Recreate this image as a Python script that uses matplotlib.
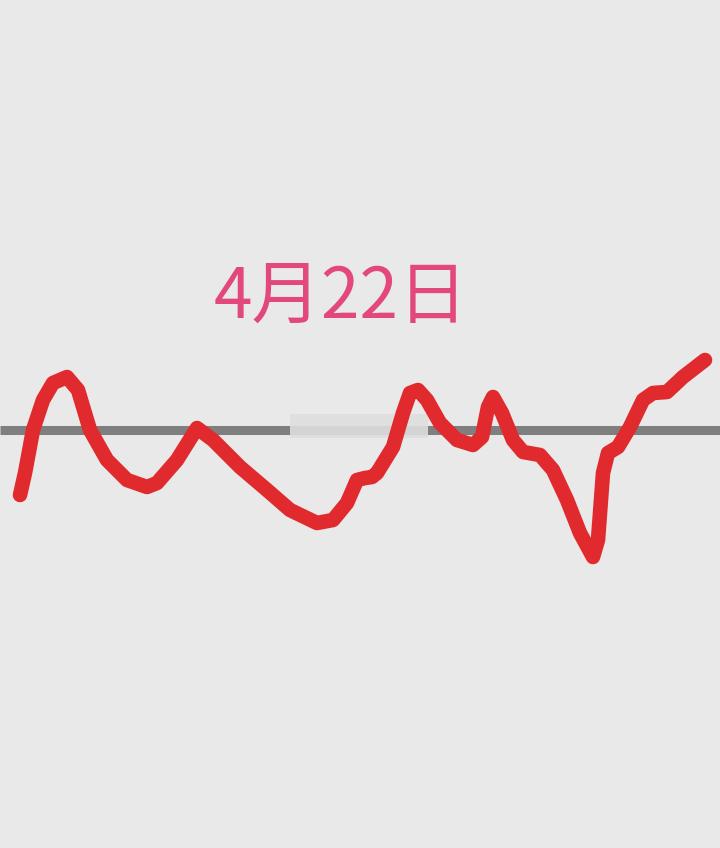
import matplotlib
matplotlib.use("Agg")
import matplotlib.pyplot as plt
from matplotlib.patches import Rectangle

# hand-drawn red curve (x across, y down, pixels)
curve_x = [20, 25, 33, 43, 53, 67, 78, 90, 107, 127, 147, 157, 177, 197,
           213, 240, 267, 290, 317, 333, 347, 357, 365, 372, 377, 393, 403,
           410, 418, 427, 440, 457, 473, 482, 488, 493, 502, 513, 523, 540,
           553, 567, 580, 593, 598, 603, 608, 618, 630, 643, 653, 667, 683, 705]
curve_y = [495, 473, 430, 400, 383, 377, 390, 430, 460, 480, 487, 483, 460, 428,
           440, 467, 490, 510, 523, 520, 503, 480, 478, 477, 473, 447, 413,
           393, 390, 400, 423, 440, 445, 437, 407, 397, 413, 440, 452, 455,
           470, 500, 533, 557, 540, 473, 453, 447, 427, 400, 393, 392, 377, 360]

baseline_y = 430
title = "4月22日"

plt.rcParams['font.family'] = ['Noto Sans CJK SC', 'DejaVu Sans']

fig = plt.figure(figsize=(7.2, 8.48), dpi=100)
fig.patch.set_facecolor("#e9e9e9")
ax = fig.add_axes([0, 0, 1, 1])
ax.set_facecolor("#e9e9e9")
ax.set_xlim(0, 720)
ax.set_ylim(848, 0)
ax.axis("off")

# grey reference line
ax.plot([0, 720], [baseline_y, baseline_y], color="#7f7f7f", lw=6.5,
        solid_capstyle="butt", zorder=2)
# blurred patch over the middle of the line
ax.add_patch(Rectangle((290, 414), 138, 24, facecolor="#dedede",
                       edgecolor="none", alpha=0.9, zorder=3))

ax.plot(curve_x, curve_y, color="#e12a2d", lw=10.5,
        solid_joinstyle="round", solid_capstyle="round", zorder=4)

ax.text(341, 298, title, color="#e2487c", fontsize=50, fontweight="medium",
        ha="center", va="center", zorder=5)

fig.savefig("out.png", dpi=100, facecolor=fig.get_facecolor())
